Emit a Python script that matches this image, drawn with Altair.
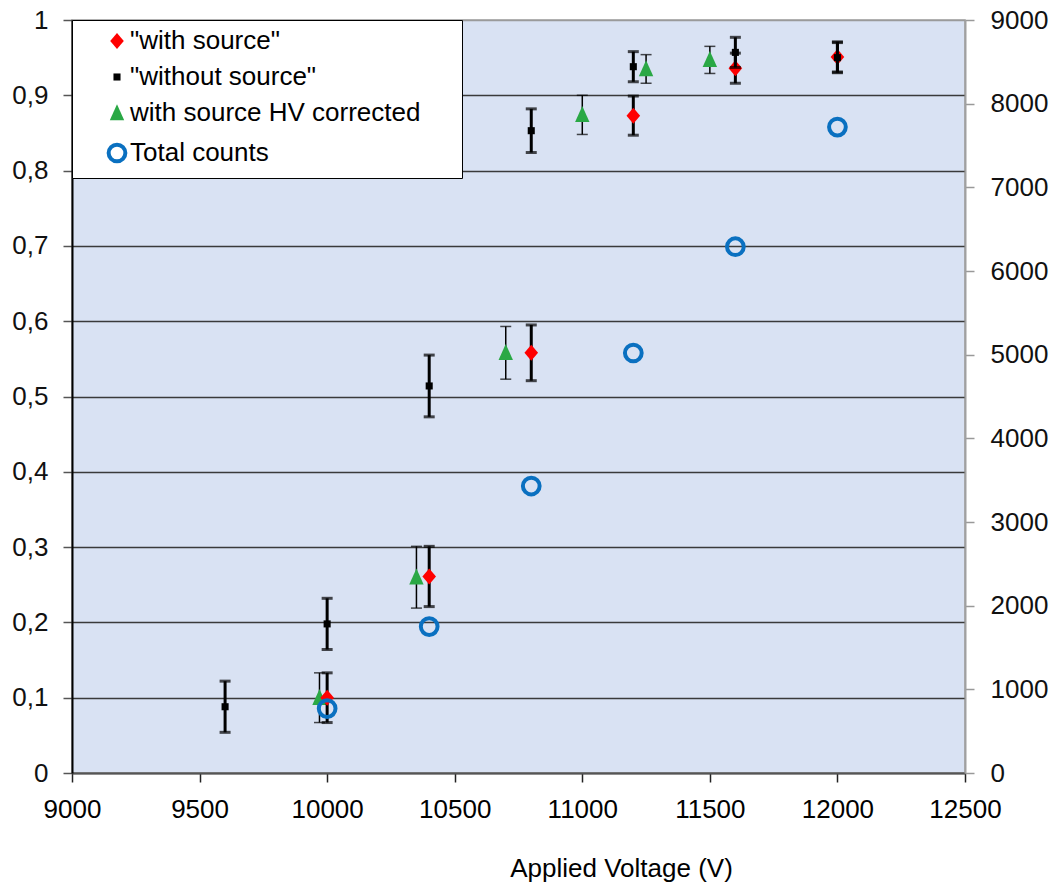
import altair as alt
import pandas as pd

FONT = "Liberation Sans"

# ---- data ----
names = ['"with source"', '"without source"', "with source HV corrected", "Total counts"]

ws_x = [10000, 10400, 10800, 11200, 11600, 12000]
ws_y = [0.100, 0.261, 0.558, 0.873, 0.936, 0.951]
ws_e = [0.033, 0.040, 0.037, 0.026, 0.020, 0.020]

wo_x = [9600, 10000, 10400, 10800, 11200, 11600, 12000]
wo_y = [0.088, 0.198, 0.514, 0.853, 0.938, 0.957, 0.950]
wo_e = [0.034, 0.034, 0.041, 0.029, 0.020, 0.020, 0.020]

hv_x = [9970, 10350, 10700, 11000, 11250, 11500]
hv_y = [0.100, 0.260, 0.558, 0.874, 0.935, 0.947]
hv_e = [0.033, 0.041, 0.035, 0.026, 0.019, 0.018]

tc_x = [10000, 10400, 10800, 11200, 11600, 12000]
tc_y = [770, 1750, 3430, 5020, 6290, 7720]

x_ticks = [9000, 9500, 10000, 10500, 11000, 11500, 12000, 12500]
left_ticks = [0, 0.1, 0.2, 0.3, 0.4, 0.5, 0.6, 0.7, 0.8, 0.9, 1.0]
right_ticks = [0, 1000, 2000, 3000, 4000, 5000, 6000, 7000, 8000, 9000]

def frame(xs, ys, es, name):
    d = pd.DataFrame({"x": xs, "y": ys, "e": es})
    d["lo"] = d["y"] - d["e"]
    d["hi"] = d["y"] + d["e"]
    d["series"] = name
    return d

df_ws = frame(ws_x, ws_y, ws_e, names[0])
df_wo = frame(wo_x, wo_y, wo_e, names[1])
df_hv = frame(hv_x, hv_y, hv_e, names[2])
df_tc = pd.DataFrame({"x": tc_x, "y": tc_y, "series": names[3]})

# ---- shared encodings ----
diamond = "M0,-1L0.85,0L0,1L-0.85,0Z"
triangle = "M0,-1.1L0.9,0.9L-0.9,0.9Z"

# the white, right-hand title only widens the white legend box like the reference's
LEG = alt.Legend(
    title="W", titleOrient="right", titleColor="white", titleFontSize=26, titlePadding=9,
    orient="top-left", offset=0, fillColor="white", strokeColor="black",
    padding=8, labelFontSize=26, labelFont=FONT, labelColor="black", labelLimit=800,
    rowPadding=10, symbolOffset=24, labelOffset=0,
)
SH = alt.Shape("series:N", scale=alt.Scale(domain=names, range=[diamond, "square", triangle, "circle"]), legend=LEG)
FI = alt.Fill("series:N", scale=alt.Scale(domain=names, range=["#FF0000", "#000000", "#2AA845", "transparent"]), legend=LEG)
ST = alt.Stroke("series:N", scale=alt.Scale(domain=names, range=["#FF0000", "#000000", "#2AA845", "#0A70C0"]), legend=LEG)
SW = alt.StrokeWidth("series:O", scale=alt.Scale(type="ordinal", domain=names, range=[0, 0, 0, 4]), legend=LEG)
SZ = alt.Size("series:O", scale=alt.Scale(type="ordinal", domain=names, range=[256, 50, 256, 280]), legend=LEG)

X = alt.X("x:Q", title="Applied Voltage (V)",
          scale=alt.Scale(domain=[9000, 12500], nice=False, zero=False),
          axis=alt.Axis(values=x_ticks, format="d", grid=False, labelFont=FONT, labelFontSize=26,
                        labelColor="black", tickColor="#222", tickSize=9, tickWidth=1.5,
                        domainColor="#555", domainWidth=2, labelPadding=14,
                        titleFont=FONT, titleFontSize=26, titleFontWeight="normal", titleColor="black",
                        titleX=549, titleY=103, titleBaseline="alphabetic", titleAnchor="middle",
                        labelFlush=False))

LEFT_AXIS = alt.Axis(values=left_ticks, labelExpr="replace(format(datum.value, '.1~f'), '.', ',')",
                     grid=True, gridColor={"condition": {"test": "datum.value >= 0.99", "value": "#9A9A9A"}, "value": "#3A3A3A"},
                     gridWidth=1.5, labelFont=FONT, labelFontSize=26, labelColor="#111",
                     tickColor="#555", tickSize=9, tickWidth=1.5, domainColor="black", domainWidth=2,
                     labelPadding=15, title=None)

def yl(field):
    return alt.Y(f"{field}:Q", scale=alt.Scale(domain=[0, 1], nice=False), axis=LEFT_AXIS, title=None)

def series_layers(d, thick):
    base = alt.Chart(d)
    w = 3 if thick else 1.5
    bar = base.mark_rule(strokeWidth=w, color="black").encode(x=X, y=yl("lo"), y2="hi")
    cap_hi = base.mark_tick(orient="horizontal", size=11, thickness=w, color="black").encode(x=X, y=yl("hi"))
    cap_lo = base.mark_tick(orient="horizontal", size=11, thickness=w, color="black").encode(x=X, y=yl("lo"))
    pts = base.mark_point(opacity=1).encode(x=X, y=yl("y"), shape=SH, fill=FI, stroke=ST, strokeWidth=SW, size=SZ)
    return [bar, cap_hi, cap_lo, pts]

left = alt.layer(*(series_layers(df_hv, False) + series_layers(df_ws, True) + series_layers(df_wo, True)))

right = alt.Chart(df_tc).mark_point(opacity=1).encode(
    x=X,
    y=alt.Y("y:Q", scale=alt.Scale(domain=[0, 9000], nice=False),
            axis=alt.Axis(orient="right", values=right_ticks, format="d", grid=False, labelFont=FONT,
                          labelFontSize=26, labelColor="#111", tickColor="#999", tickSize=9, tickWidth=1.5,
                          domainColor="#A0A0A0", domainWidth=2, labelPadding=16, title=None)),
    shape=SH, fill=FI, stroke=ST, strokeWidth=SW, size=SZ,
)

chart = alt.layer(left, right).resolve_scale(y="independent").properties(
    width=893, height=753,
    autosize=alt.AutoSizeParams(type="none"),
    padding={"left": 72, "top": 20, "right": 90, "bottom": 113},
    background="white",
).configure_view(fill="#D9E2F3", stroke="#A0A0A0", strokeWidth=1.5)

chart.save("out.html", embed_options={"renderer": "svg", "actions": False})
